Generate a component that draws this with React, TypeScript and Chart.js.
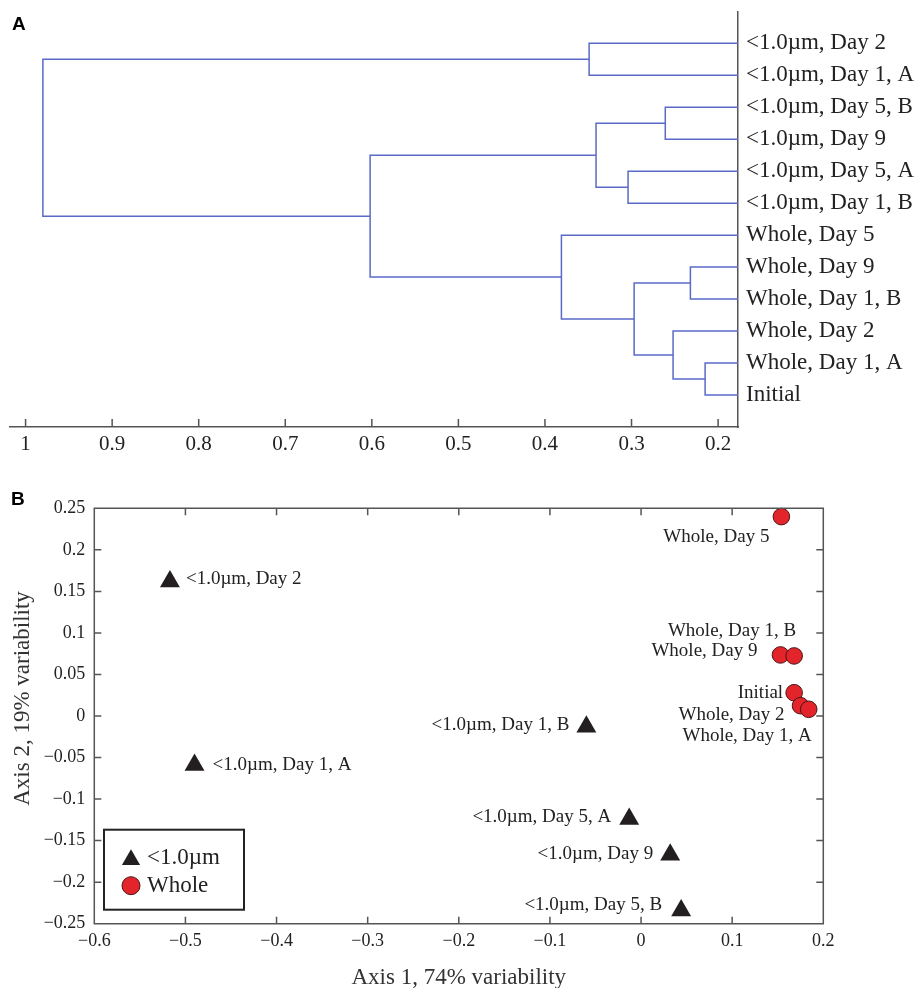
import React, { useEffect, useRef } from "react";
import { Chart, registerables } from "chart.js";

Chart.register(...registerables);

const SERIF = '"Liberation Serif", "Times New Roman", serif';
const AXIS = "#555555";
const TEXT = "#222222";
const BLUE = "#5a6ac8";
const RED = "#e3242b";
const DARK = "#231f20";

// ---------- Panel A: dendrogram ----------
const leafLabels = [
  "<1.0µm, Day 2",
  "<1.0µm, Day 1, A",
  "<1.0µm, Day 5, B",
  "<1.0µm, Day 9",
  "<1.0µm, Day 5, A",
  "<1.0µm, Day 1, B",
  "Whole, Day 5",
  "Whole, Day 9",
  "Whole, Day 1, B",
  "Whole, Day 2",
  "Whole, Day 1, A",
  "Initial",
];
// merge k creates node 12 + k
const mergeLeft = [0, 2, 4, 13, 7, 10, 9, 16, 6, 15, 12];
const mergeRight = [1, 3, 5, 14, 8, 11, 17, 18, 19, 20, 21];
const mergeDistance = [0.349, 0.261, 0.304, 0.341, 0.232, 0.215, 0.252, 0.297, 0.381, 0.602, 0.98];
const distanceTicks = [1, 0.9, 0.8, 0.7, 0.6, 0.5, 0.4, 0.3, 0.2];
const distanceMin = 0.177;
const distanceMax = 1.018;

// ---------- Panel B: ordination ----------
const smallLabels = ["<1.0µm, Day 2", "<1.0µm, Day 1, A", "<1.0µm, Day 1, B", "<1.0µm, Day 5, A", "<1.0µm, Day 9", "<1.0µm, Day 5, B"];
const smallAxis1 = [-0.517, -0.49, -0.06, -0.013, 0.032, 0.044];
const smallAxis2 = [0.162, -0.059, -0.013, -0.124, -0.167, -0.234];
const wholeLabels = ["Whole, Day 5", "Whole, Day 9", "Whole, Day 1, B", "Initial", "Whole, Day 2", "Whole, Day 1, A"];
const wholeAxis1 = [0.154, 0.153, 0.168, 0.168, 0.175, 0.184];
const wholeAxis2 = [0.24, 0.0735, 0.0723, 0.028, 0.0124, 0.0081];
const axis1Ticks = [-0.6, -0.5, -0.4, -0.3, -0.2, -0.1, 0, 0.1, 0.2];
const axis2Ticks = [-0.25, -0.2, -0.15, -0.1, -0.05, 0, 0.05, 0.1, 0.15, 0.2, 0.25];

// label placement (style): [textAlign, dx, dy]
const smallLabelPlace: [string, number, number][] = [
  ["left", 16, -2], ["left", 18, 0], ["right", -17, -2], ["right", -18, -2], ["right", -17, -1], ["right", -19, -5],
];
const wholeLabelPlace: [string, number, number][] = [
  ["right", -12, 20], ["right", -23, -4], ["right", 2, -25], ["right", -11, 0], ["right", -16, 9], ["right", 3, 27],
];

const fmt = (v: number) => (v < 0 ? "\u2212" : "") + String(Math.abs(v));

const inwardTicks = {
  id: "inwardTicks",
  afterDraw(chart: any, _a: any, opts: any) {
    const { ctx, chartArea: ca, scales } = chart;
    const len = opts.length ?? 7;
    ctx.save();
    ctx.strokeStyle = opts.color || AXIS;
    ctx.lineWidth = opts.width ?? 1.5;
    ctx.beginPath();
    const xs = scales.x;
    xs.ticks.forEach((t: any) => {
      const px = xs.getPixelForValue(t.value);
      ctx.moveTo(px, ca.bottom);
      ctx.lineTo(px, ca.bottom - len);
      if (opts.box) {
        ctx.moveTo(px, ca.top);
        ctx.lineTo(px, ca.top + len);
      }
    });
    if (opts.box) {
      const ys = scales.y;
      ys.ticks.forEach((t: any) => {
        const py = ys.getPixelForValue(t.value);
        ctx.moveTo(ca.left, py);
        ctx.lineTo(ca.left + len, py);
        ctx.moveTo(ca.right, py);
        ctx.lineTo(ca.right - len, py);
      });
      ctx.rect(ca.left, ca.top, ca.right - ca.left, ca.bottom - ca.top);
    }
    ctx.stroke();
    ctx.restore();
  },
};

const pointLabelsPlugin = {
  id: "pointLabelsPlugin",
  afterDatasetsDraw(chart: any) {
    const { ctx } = chart;
    ctx.save();
    ctx.font = `19px ${SERIF}`;
    ctx.fillStyle = TEXT;
    ctx.textBaseline = "middle";
    chart.data.datasets.forEach((ds: any, i: number) => {
      if (!ds.pointLabels) return;
      const meta = chart.getDatasetMeta(i);
      meta.data.forEach((el: any, j: number) => {
        const [align, dx, dy] = ds.labelPlace[j];
        ctx.textAlign = align;
        ctx.fillText(ds.pointLabels[j], el.x + dx, el.y + dy);
      });
    });
    ctx.restore();
  },
};

const legendTitlesPlugin = {
  id: "legendTitlesPlugin",
  afterDraw(chart: any) {
    const { ctx, chartArea: ca } = chart;
    ctx.save();
    // axis titles
    ctx.font = `23px ${SERIF}`;
    ctx.fillStyle = "#333333";
    ctx.textAlign = "center";
    ctx.textBaseline = "alphabetic";
    ctx.fillText("Axis 1, 74% variability", (ca.left + ca.right) / 2, ca.bottom + 60);
    ctx.save();
    ctx.translate(28.5, (ca.top + ca.bottom) / 2 - 17.5);
    ctx.rotate(-Math.PI / 2);
    ctx.fillText("Axis 2, 19% variability", 0, 0);
    ctx.restore();
    // legend box
    const x0 = ca.left + 9.7;
    const y0 = ca.bottom - 94;
    ctx.strokeStyle = "#222222";
    ctx.lineWidth = 2;
    ctx.strokeRect(x0, y0, 140, 80);
    ctx.textAlign = "left";
    chart.data.datasets.forEach((ds: any, i: number) => {
      const cx = x0 + 27;
      const cy = y0 + 30 + i * 26;
      ctx.fillStyle = ds.pointBackgroundColor;
      ctx.beginPath();
      if (ds.pointStyle === "triangle") {
        const r = 10.5;
        ctx.moveTo(cx, cy - r);
        ctx.lineTo(cx + r * Math.sin((2 * Math.PI) / 3), cy - r * Math.cos((2 * Math.PI) / 3));
        ctx.lineTo(cx + r * Math.sin((4 * Math.PI) / 3), cy - r * Math.cos((4 * Math.PI) / 3));
        ctx.closePath();
        ctx.fill();
      } else {
        ctx.arc(cx, cy, 9, 0, Math.PI * 2);
        ctx.fill();
        ctx.strokeStyle = ds.pointBorderColor;
        ctx.lineWidth = 1;
        ctx.stroke();
      }
      ctx.fillStyle = TEXT;
      ctx.font = `23px ${SERIF}`;
      ctx.fillText(ds.label, x0 + 43, cy + 4 + i * 2);
    });
    ctx.restore();
  },
};

function buildDendrogram() {
  const nodeDist: number[] = leafLabels.map(() => distanceMin);
  const nodePos: number[] = leafLabels.map((_, i) => i);
  return mergeLeft.map((l, k) => {
    const r = mergeRight[k];
    const d = mergeDistance[k];
    const data = [
      { x: nodeDist[l], y: nodePos[l] },
      { x: d, y: nodePos[l] },
      { x: d, y: nodePos[r] },
      { x: nodeDist[r], y: nodePos[r] },
    ];
    nodeDist.push(d);
    nodePos.push((nodePos[l] + nodePos[r]) / 2);
    return {
      data,
      showLine: true,
      borderColor: BLUE,
      borderWidth: 1.5,
      pointRadius: 0,
      fill: false,
      tension: 0,
      clip: false as any,
    };
  });
}

export default function App() {
  const refA = useRef<HTMLCanvasElement | null>(null);
  const refB = useRef<HTMLCanvasElement | null>(null);

  useEffect(() => {
    const chartA = new Chart(refA.current as HTMLCanvasElement, {
      type: "scatter",
      data: { datasets: buildDendrogram() as any },
      options: {
        responsive: false,
        animation: false,
        devicePixelRatio: 1,
        events: [],
        layout: { padding: { top: 11.3, left: 10, right: 0, bottom: 0 } },
        plugins: {
          legend: { display: false },
          tooltip: { enabled: false },
          inwardTicks: { length: 8, color: AXIS, width: 1.5, box: false },
        } as any,
        scales: {
          x: {
            type: "linear",
            position: "bottom",
            min: distanceMin,
            max: distanceMax,
            reverse: true,
            afterBuildTicks: (s: any) => {
              s.ticks = distanceTicks.map((v) => ({ value: v }));
            },
            afterFit: (s: any) => {
              s.height = 33;
              s.paddingLeft = 0;
              s.paddingRight = 0;
            },
            grid: { display: false, drawTicks: false },
            border: { display: true, color: AXIS, width: 1.5 },
            ticks: {
              font: { family: SERIF, size: 21 },
              color: TEXT,
              padding: 5,
              maxRotation: 0,
              autoSkip: false,
              callback: (v: any) => fmt(Number(v)),
            },
          },
          y: {
            type: "linear",
            position: "right",
            min: -1,
            max: 12,
            reverse: true,
            afterBuildTicks: (s: any) => {
              s.ticks = leafLabels.map((_, i) => ({ value: i }));
            },
            afterFit: (s: any) => {
              s.width = 177;
              s.paddingTop = 0;
              s.paddingBottom = 0;
            },
            grid: { display: false, drawTicks: false },
            border: { display: true, color: AXIS, width: 1.5 },
            ticks: {
              font: { family: SERIF, size: 23 },
              color: TEXT,
              padding: 8,
              autoSkip: false,
              callback: (v: any) => leafLabels[Number(v)],
            },
          },
        } as any,
      },
      plugins: [inwardTicks as any],
    });

    const chartB = new Chart(refB.current as HTMLCanvasElement, {
      type: "scatter",
      data: {
        datasets: [
          {
            label: "<1.0µm",
            data: smallAxis1.map((x, i) => ({ x, y: smallAxis2[i] })),
            pointStyle: "triangle",
            pointRadius: 11.5,
            pointBackgroundColor: DARK,
            pointBorderColor: DARK,
            pointBorderWidth: 0,
            clip: false,
            pointLabels: smallLabels,
            labelPlace: smallLabelPlace,
          } as any,
          {
            label: "Whole",
            data: wholeAxis1.map((x, i) => ({ x, y: wholeAxis2[i] })),
            pointStyle: "circle",
            pointRadius: 8.3,
            pointBackgroundColor: RED,
            pointBorderColor: "#4a1515",
            pointBorderWidth: 1,
            clip: false,
            pointLabels: wholeLabels,
            labelPlace: wholeLabelPlace,
          } as any,
        ],
      },
      options: {
        responsive: false,
        animation: false,
        devicePixelRatio: 1,
        events: [],
        layout: { padding: { top: 38.3, left: 0, right: 91.7, bottom: 0 } },
        plugins: {
          legend: { display: false },
          tooltip: { enabled: false },
          inwardTicks: { length: 7, color: AXIS, width: 1.5, box: true },
        } as any,
        scales: {
          x: {
            type: "linear",
            min: -0.6,
            max: 0.2,
            afterBuildTicks: (s: any) => {
              s.ticks = axis1Ticks.map((v) => ({ value: v }));
            },
            afterFit: (s: any) => {
              s.height = 64.3;
            },
            grid: { display: false, drawTicks: false },
            border: { display: false },
            ticks: {
              font: { family: SERIF, size: 18 },
              color: TEXT,
              padding: 7,
              maxRotation: 0,
              autoSkip: false,
              callback: (v: any) => fmt(Number(v)),
            },
          },
          y: {
            type: "linear",
            min: -0.25,
            max: 0.25,
            afterBuildTicks: (s: any) => {
              s.ticks = axis2Ticks.map((v) => ({ value: v }));
            },
            afterFit: (s: any) => {
              s.width = 94.3;
            },
            grid: { display: false, drawTicks: false },
            border: { display: false },
            ticks: {
              font: { family: SERIF, size: 18 },
              color: TEXT,
              padding: 9,
              autoSkip: false,
              callback: (v: any) => fmt(Number(v)),
            },
          },
        } as any,
      },
      plugins: [inwardTicks as any, pointLabelsPlugin as any, legendTitlesPlugin as any],
    });

    return () => {
      chartA.destroy();
      chartB.destroy();
    };
  }, []);

  const letter: React.CSSProperties = {
    position: "absolute",
    fontFamily: '"Liberation Sans", Arial, sans-serif',
    fontWeight: "bold",
    fontSize: 19,
    lineHeight: "19px",
    color: "#000",
  };

  return (
    <div style={{ position: "absolute", left: 0, top: 0, width: 915, height: 988, background: "#fff", overflow: "hidden" }}>
      <canvas ref={refA} width={915} height={460} style={{ position: "absolute", left: 0, top: 0, width: 915, height: 460 }} />
      <canvas ref={refB} width={915} height={518} style={{ position: "absolute", left: 0, top: 470, width: 915, height: 518 }} />
      <div style={{ ...letter, left: 12, top: 13.5 }}>A</div>
      <div style={{ ...letter, left: 11, top: 489 }}>B</div>
    </div>
  );
}
